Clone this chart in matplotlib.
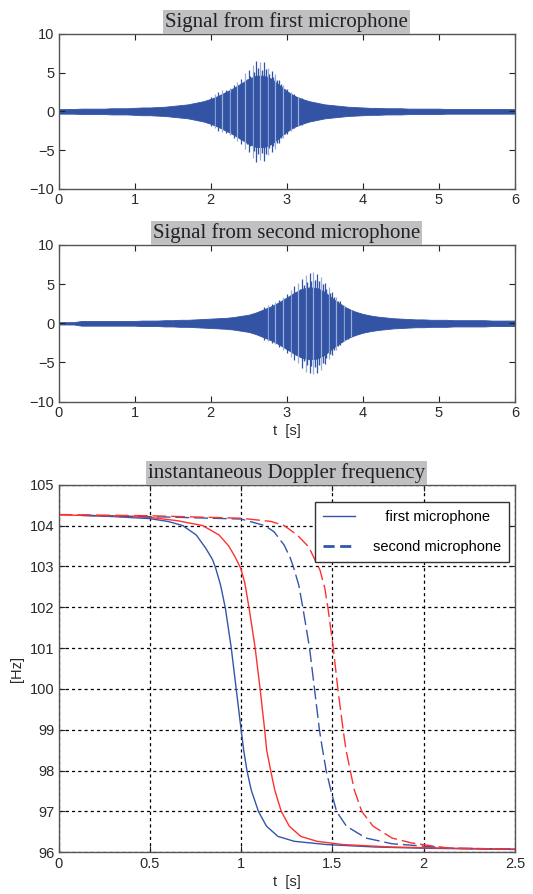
import matplotlib.pyplot as plt
import numpy as np

# --- microphone signals: envelope amplitude every 0.1 s (0..6 s) ---
t_env = np.arange(61) / 10.0
env_mic1 = [0.3, 0.3, 0.3, 0.35, 0.35, 0.35, 0.35, 0.4, 0.4, 0.4,
            0.45, 0.5, 0.5, 0.55, 0.6, 0.7, 0.8, 0.9, 1.1, 1.3,
            1.6, 2.0, 2.5, 3.0, 3.6, 4.2, 4.6, 4.6, 4.2, 3.4,
            2.6, 2.0, 1.6, 1.3, 1.1, 0.9, 0.8, 0.7, 0.6, 0.55,
            0.5, 0.45, 0.45, 0.4, 0.4, 0.4, 0.35, 0.35, 0.35, 0.35,
            0.35, 0.3, 0.3, 0.3, 0.3, 0.3, 0.3, 0.3, 0.3, 0.3, 0.3]
env_mic2 = [0.15, 0.15, 0.15, 0.3, 0.3, 0.3, 0.3, 0.3, 0.3, 0.3,
            0.3, 0.35, 0.35, 0.35, 0.4, 0.4, 0.45, 0.45, 0.5, 0.55,
            0.6, 0.65, 0.7, 0.8, 0.95, 1.1, 1.4, 1.8, 2.2, 2.7,
            3.3, 3.9, 4.4, 4.6, 4.5, 4.0, 3.2, 2.5, 1.9, 1.5,
            1.2, 1.0, 0.85, 0.75, 0.65, 0.6, 0.55, 0.5, 0.5, 0.45,
            0.45, 0.45, 0.4, 0.4, 0.4, 0.4, 0.4, 0.35, 0.35, 0.35, 0.35]

# individual peaks sticking out of the envelope
spike_t1 = [2.00, 2.05, 2.10, 2.15, 2.20, 2.25, 2.30, 2.35, 2.40, 2.45,
            2.50, 2.55, 2.60, 2.65, 2.70, 2.75, 2.80, 2.85, 2.90, 2.95,
            3.00, 3.05, 3.10, 3.15, 3.20]
spike_a1 = [1.9, 2.2, 2.5, 2.7, 2.8, 3.0, 3.4, 3.8, 4.2, 4.9,
            5.3, 6.0, 6.5, 6.3, 6.4, 5.6, 5.2, 4.8, 4.1, 3.4,
            2.9, 2.5, 2.2, 1.9, 1.7]
spike_t2 = [2.70, 2.75, 2.80, 2.85, 2.90, 2.95, 3.00, 3.05, 3.10, 3.15,
            3.20, 3.25, 3.30, 3.35, 3.40, 3.45, 3.50, 3.55, 3.60, 3.65,
            3.70, 3.75, 3.80, 3.85, 3.90]
spike_a2 = [2.1, 2.3, 2.5, 2.7, 3.0, 3.4, 3.8, 4.3, 4.7, 5.1,
            5.7, 6.2, 6.4, 6.5, 6.3, 5.9, 5.2, 4.6, 4.0, 3.4,
            2.8, 2.3, 2.0, 1.7, 1.5]

# --- instantaneous Doppler frequency curves ---
t_b1 = [0.126, 0.3, 0.5, 0.6, 0.68, 0.754, 0.807, 0.843, 0.861, 0.8875, 0.914, 0.946,
        0.973, 1.0, 1.014, 1.032, 1.055, 1.095, 1.139, 1.202, 1.291, 1.47, 1.738, 2.005, 2.5]
f_b1 = [104.25, 104.22, 104.17, 104.1, 104.0, 103.77, 103.44, 103.17, 102.95, 102.54, 101.97, 101.0,
        100.0, 99.0, 98.5, 98.0, 97.53, 97.0, 96.64, 96.39, 96.27, 96.19, 96.13, 96.1, 96.07]
t_r1 = [0.0, 0.25, 0.5, 0.65, 0.789, 0.879, 0.932, 0.965, 0.998, 1.02, 1.045, 1.077,
        1.104, 1.129, 1.14, 1.162, 1.184, 1.22, 1.264, 1.327, 1.416, 1.559, 1.827, 2.148, 2.5]
f_r1 = [104.26, 104.24, 104.2, 104.12, 104.0, 103.77, 103.5, 103.25, 102.95, 102.6, 101.94, 101.0,
        100.0, 99.0, 98.5, 98.0, 97.53, 97.0, 96.64, 96.39, 96.27, 96.19, 96.13, 96.1, 96.08]
t_b2 = [0.126, 0.5, 1.0, 1.129, 1.18, 1.236, 1.27, 1.289, 1.316, 1.339, 1.375, 1.402,
        1.429, 1.443, 1.466, 1.491, 1.523, 1.577, 1.684, 1.827, 2.005, 2.148, 2.5]
f_b2 = [104.25, 104.22, 104.16, 104.0, 103.85, 103.52, 103.2, 102.95, 102.54, 101.97, 101.0, 100.0,
        99.0, 98.6, 98.0, 97.53, 97.0, 96.64, 96.35, 96.21, 96.15, 96.1, 96.08]
t_r2 = [0.0, 0.5, 1.0, 1.164, 1.236, 1.307, 1.37, 1.432, 1.459, 1.477, 1.505, 1.53,
        1.559, 1.575, 1.598, 1.62, 1.661, 1.723, 1.827, 1.934, 2.041, 2.148, 2.5]
f_r2 = [104.27, 104.24, 104.18, 104.1, 104.0, 103.77, 103.48, 102.91, 102.46, 101.94, 101.0, 100.0,
        99.0, 98.5, 98.0, 97.53, 97.0, 96.64, 96.35, 96.23, 96.16, 96.1, 96.08]

SIG = '#3353a5'
LIGHT = '#9aaed8'
BLUE = '#3355aa'
RED = '#ff3030'
TXT = '#2a2a2a'

plt.rcParams['font.family'] = ['Liberation Sans', 'DejaVu Sans']

fig = plt.figure(figsize=(5.33, 8.94), dpi=100)


def style_axes(ax):
    for s in ax.spines.values():
        s.set_color('#555555')
        s.set_linewidth(1.0)
    ax.tick_params(direction='in', top=True, right=True, length=4,
                   labelsize=10.5, colors='#222222', labelcolor=TXT, pad=3)


def panel_title(ax, text):
    ax.set_title(text, family='Liberation Serif', fontsize=15, color='#222222',
                 pad=5, bbox=dict(facecolor='#c0c0c2', edgecolor='none', pad=1.5))


def signal_panel(rect, title, env, spike_t, spike_a, xlabel=None):
    ax = fig.add_axes(rect)
    env = np.array(env)
    ax.fill_between(t_env, -env, env, color=SIG, lw=0.6, edgecolor=SIG)
    for i, (ts, a) in enumerate(zip(spike_t, spike_a)):
        ax.vlines(ts, -a, a, color=LIGHT if i % 2 else SIG, lw=0.9)
        ax.vlines(ts + 0.022, -a * 0.85, a * 0.85, color=SIG, lw=1.0)
    ax.set_xlim(0, 6)
    ax.set_ylim(-10, 10)
    ax.set_xticks(range(7))
    ax.set_yticks([-10, -5, 0, 5, 10])
    style_axes(ax)
    panel_title(ax, title)
    if xlabel:
        ax.set_xlabel(xlabel, fontsize=10.5, color=TXT, labelpad=3)
    return ax


signal_panel([0.110, 0.7886, 0.856, 0.1737], 'Signal from first microphone',
             env_mic1, spike_t1, spike_a1)
signal_panel([0.110, 0.5507, 0.856, 0.1753], 'Signal from second microphone',
             env_mic2, spike_t2, spike_a2, xlabel='t  [s]')

ax3 = fig.add_axes([0.110, 0.0466, 0.856, 0.4112])
ax3.plot(t_b1, f_b1, color=BLUE, lw=1.0, label='   first microphone')
ax3.plot(t_r1, f_r1, color=RED, lw=1.0)
ax3.plot(t_b2, f_b2, color=BLUE, lw=1.0, dashes=(10, 3.5), label='second microphone')
ax3.plot(t_r2, f_r2, color=RED, lw=1.0, dashes=(10, 3.5))
ax3.set_xlim(0, 2.5)
ax3.set_ylim(96, 105)
ax3.set_xticks([0, 0.5, 1, 1.5, 2, 2.5])
ax3.set_xticklabels(['0', '0.5', '1', '1.5', '2', '2.5'])
ax3.set_yticks(range(96, 106))
ax3.grid(True, color='black', linestyle=(0, (2.5, 2.5)), linewidth=0.9)
style_axes(ax3)
panel_title(ax3, 'instantaneous Doppler frequency')
ax3.set_xlabel('t  [s]', fontsize=10.5, color=TXT, labelpad=3)
ax3.set_ylabel('[Hz]', fontsize=10.5, color=TXT, labelpad=4)

leg = ax3.legend(loc='upper right', bbox_to_anchor=(0.987, 0.953), borderaxespad=0,
                 fontsize=10.5, frameon=True, fancybox=False, handlelength=2.2,
                 borderpad=0.55, labelspacing=1.1, handletextpad=1.2,
                 framealpha=1)
leg.get_frame().set_edgecolor('#333333')
leg.get_frame().set_linewidth(1.0)
for h in leg.get_lines():
    h.set_linewidth(1.0)
leg.get_lines()[1].set_linewidth(2.0)
leg.get_lines()[1].set_dashes((4, 2))

fig.savefig('out.png', dpi=100)
